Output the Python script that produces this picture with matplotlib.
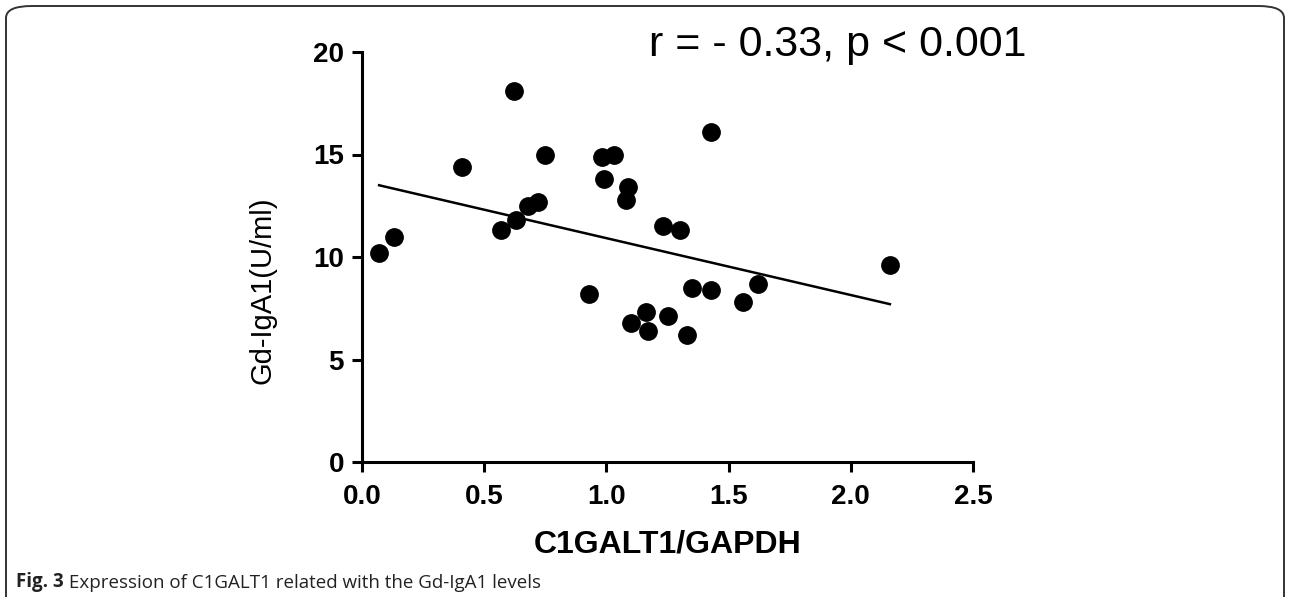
import numpy as np
import matplotlib
matplotlib.use("Agg")
import matplotlib.pyplot as plt
from matplotlib.patches import FancyBboxPatch

# values
c1galt1 = [0.07, 0.13, 0.41, 0.57, 0.62, 0.63, 0.68, 0.72, 0.75, 0.93,
           0.98, 0.99, 1.03, 1.08, 1.09, 1.10, 1.16, 1.17, 1.23, 1.25,
           1.30, 1.33, 1.35, 1.43, 1.43, 1.56, 1.62, 2.16]
gd_iga1 = [10.2, 11.0, 14.4, 11.3, 18.1, 11.8, 12.5, 12.7, 15.0, 8.2,
           14.9, 13.8, 15.0, 12.8, 13.4, 6.8, 7.3, 6.4, 11.5, 7.1,
           11.3, 6.2, 8.5, 16.1, 8.4, 7.8, 8.7, 9.6]
fit_x = [0.07, 2.16]
fit_y = [13.5, 7.7]

x_ticks = [0.0, 0.5, 1.0, 1.5, 2.0, 2.5]
y_ticks = [0, 5, 10, 15, 20]
stat_text = "r = - 0.33, p < 0.001"

plt.rcParams["font.family"] = ["Liberation Sans", "DejaVu Sans"]

fig = plt.figure(figsize=(12.9, 5.97), dpi=100)
ax = fig.add_axes([362 / 1290, 1 - 462 / 597, 611 / 1290, 410 / 597])

ax.plot(c1galt1, gd_iga1, "o", color="black", markersize=12.5, zorder=3)
ax.plot(fit_x, fit_y, color="black", linewidth=1.8, zorder=2)

ax.set_xlim(0, 2.5)
ax.set_ylim(0, 20)
ax.set_xticks(x_ticks)
ax.set_yticks(y_ticks)
ax.set_xticklabels([f"{v:.1f}" for v in x_ticks])
ax.set_yticklabels([str(v) for v in y_ticks])
ax.tick_params(direction="out", length=7, width=2.2, labelsize=20)
ax.tick_params(axis="x", pad=9)
ax.tick_params(axis="y", pad=6)
for lab in ax.get_xticklabels() + ax.get_yticklabels():
    lab.set_fontweight("bold")

for side in ("top", "right"):
    ax.spines[side].set_visible(False)
for side in ("left", "bottom"):
    ax.spines[side].set_linewidth(2.2)

ax.set_xlabel("C1GALT1/GAPDH", fontsize=23, fontweight="bold", labelpad=14)
ax.set_ylabel("Gd-IgA1(U/ml)", fontsize=21)
ax.yaxis.set_label_coords(-0.14, 0.42)

fig.text(838 / 1290, 1 - 45 / 597, stat_text, fontsize=31,
         ha="center", va="center")

# rounded frame around the figure, open at the bottom
frame = FancyBboxPatch((6 / 1290, -0.1), 1278 / 1290, 1.1 - 6 / 597,
                       boxstyle="round,pad=0,rounding_size=0.02",
                       transform=fig.transFigure, fill=False,
                       edgecolor="#333333", linewidth=1.4)
fig.add_artist(frame)

cap = fig.text(16 / 1290, 1 - 587 / 597, "Fig. 3", fontsize=13.5,
               fontweight="bold", family=["Open Sans", "DejaVu Sans"],
               color="#222222", va="baseline")
ax.annotate(" Expression of C1GALT1 related with the Gd-IgA1 levels",
            xy=(1, 0), xycoords=cap, va="bottom", fontsize=13.5,
            family=["Open Sans", "DejaVu Sans"], color="#222222",
            annotation_clip=False)

fig.savefig("out.png", dpi=100)
